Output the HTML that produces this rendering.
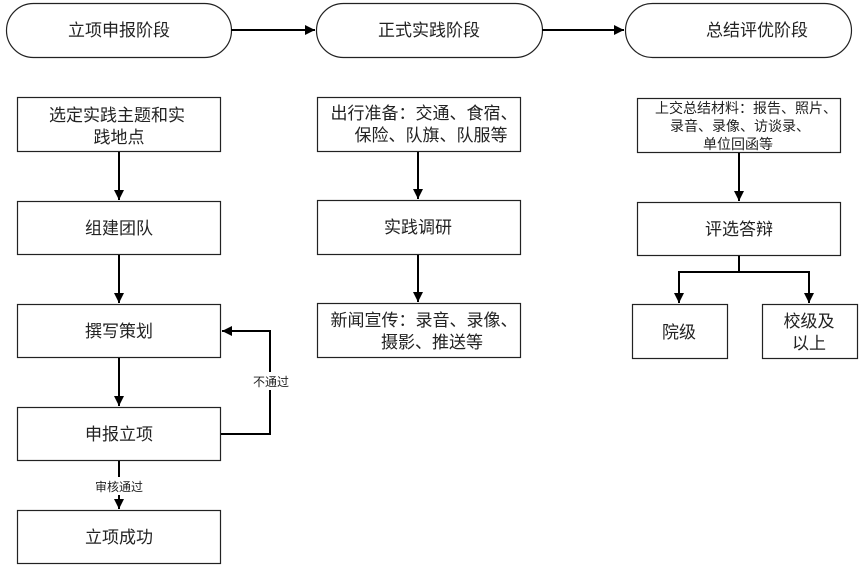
<!DOCTYPE html>
<html><head><meta charset="utf-8"><style>
html,body{margin:0;padding:0;background:#fff;}
svg{display:block;}
text{font-family:"Liberation Sans","Noto Sans CJK SC",sans-serif;fill:#222;}
</style></head><body>
<svg width="865" height="574" viewBox="0 0 865 574" xmlns="http://www.w3.org/2000/svg">
<defs>
<marker id="a" markerWidth="12" markerHeight="12" refX="10" refY="5" orient="auto" markerUnits="userSpaceOnUse">
<path d="M0,0 L10,5 L0,10 z" fill="#000"/>
</marker>
</defs>
<g fill="#fff" stroke="#222" stroke-width="1.2">
<rect x="6.5" y="3.5" width="225" height="54" rx="27"/>
<rect x="316.5" y="3.5" width="226" height="54" rx="27"/>
<rect x="625.5" y="3.5" width="226" height="54" rx="27"/>
<rect x="17.5" y="97.5" width="203" height="54"/>
<rect x="17.5" y="201.5" width="203" height="53"/>
<rect x="17.5" y="304.5" width="203" height="53"/>
<rect x="17.5" y="407.5" width="203" height="53"/>
<rect x="17.5" y="510.5" width="203" height="53"/>
<rect x="317.5" y="97.5" width="203" height="54"/>
<rect x="317.5" y="200.5" width="203" height="54"/>
<rect x="317.5" y="303.5" width="203" height="54"/>
<rect x="637.5" y="98.5" width="203" height="54"/>
<rect x="637.5" y="202.5" width="203" height="53"/>
<rect x="632.5" y="304.5" width="95" height="54"/>
<rect x="762.5" y="304.5" width="95" height="54"/>
</g>
<g stroke="#000" stroke-width="2" fill="none">
<line x1="231" y1="30" x2="315" y2="30" marker-end="url(#a)"/>
<line x1="542" y1="30" x2="624" y2="30" marker-end="url(#a)"/>
<line x1="119" y1="152" x2="119" y2="200" marker-end="url(#a)"/>
<line x1="119" y1="255" x2="119" y2="303" marker-end="url(#a)"/>
<line x1="119" y1="358" x2="119" y2="406" marker-end="url(#a)"/>
<line x1="119" y1="461" x2="119" y2="509" marker-end="url(#a)"/>
<polyline points="221,434 270,434 270,331 222,331" marker-end="url(#a)"/>
<line x1="418" y1="152" x2="418" y2="199" marker-end="url(#a)"/>
<line x1="418" y1="255" x2="418" y2="302" marker-end="url(#a)"/>
<line x1="739" y1="153" x2="739" y2="201" marker-end="url(#a)"/>
<line x1="739" y1="256" x2="739" y2="272"/>
<polyline points="679,303 679,272 809,272 809,303" marker-end="url(#a)"/>
<line x1="679" y1="290" x2="679" y2="303" marker-end="url(#a)"/>
</g>
<rect x="250" y="372" width="42" height="18" fill="#fff"/>
<rect x="92" y="477" width="54" height="18" fill="#fff"/>
<g font-size="17" text-anchor="middle">
<text x="119" y="36">立项申报阶段</text>
<text x="429" y="36">正式实践阶段</text>
<text x="757" y="36">总结评优阶段</text>
<text x="117" y="121">选定实践主题和实</text>
<text x="119" y="143">践地点</text>
<text x="119" y="234">组建团队</text>
<text x="119" y="337">撰写策划</text>
<text x="119" y="440">申报立项</text>
<text x="119" y="543">立项成功</text>
<text x="424" y="119">出行准备：交通、食宿、</text>
<text x="431" y="141">保险、队旗、队服等</text>
<text x="418" y="233">实践调研</text>
<text x="424" y="326">新闻宣传：录音、录像、</text>
<text x="432" y="348">摄影、推送等</text>
<text x="739" y="235">评选答辩</text>
<text x="679" y="338">院级</text>
<text x="809" y="327">校级及</text>
<text x="809" y="349">以上</text>
</g>
<g font-size="14" text-anchor="middle">
<text x="746" y="113">上交总结材料：报告、照片、</text>
<text x="740" y="131">录音、录像、访谈录、</text>
<text x="738" y="149">单位回函等</text>
</g>
<g font-size="12" text-anchor="middle">
<text x="271" y="386">不通过</text>
<text x="119" y="491">审核通过</text>
</g>
</svg>
</body></html>
